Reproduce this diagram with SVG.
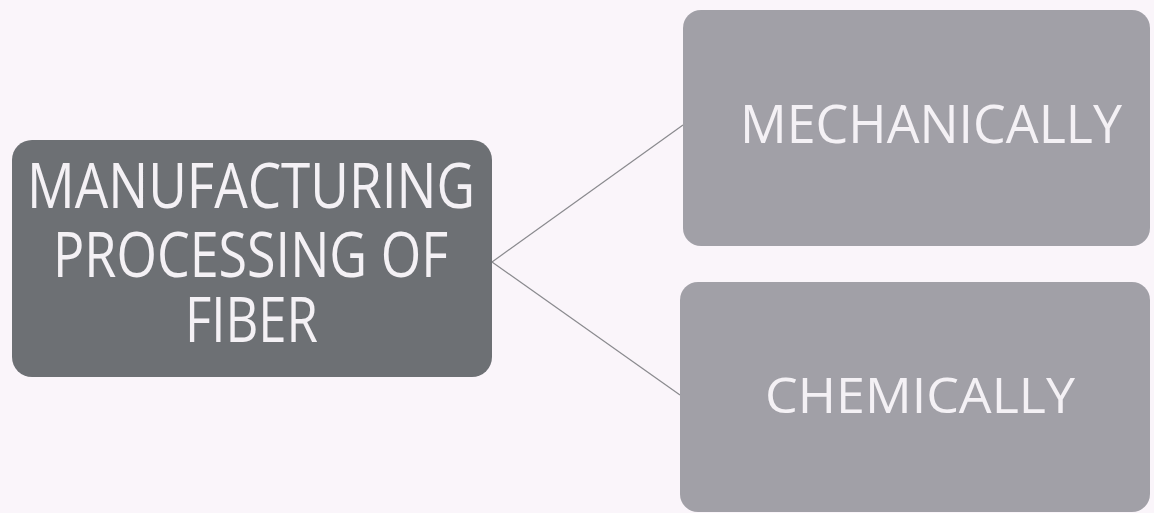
<svg xmlns="http://www.w3.org/2000/svg" width="1154" height="513" viewBox="0 0 1154 513">
  <style>
    .lbl { font-family: "Open Sans", "Noto Sans", sans-serif; fill: #f4f1f5; }
    .dark { fill: #6d7074; }
    .light { fill: #a1a0a7; }
    .conn { stroke: #8a8a8e; stroke-width: 1.2; fill: none; }
  </style>
  <rect x="0" y="0" width="1154" height="513" fill="#faf5fa"/>
  <g id="connectors">
    <line class="conn" x1="492" y1="262" x2="683" y2="125"/>
    <line class="conn" x1="492" y1="262" x2="680" y2="395"/>
  </g>
  <g id="node-main">
    <rect class="dark" x="12" y="140" width="480" height="237" rx="20" ry="20"/>
    <text class="lbl" x="27" y="208" font-size="63" textLength="448" lengthAdjust="spacingAndGlyphs">MANUFACTURING</text>
    <text class="lbl" x="53" y="277" font-size="63" textLength="395" lengthAdjust="spacingAndGlyphs">PROCESSING OF</text>
    <text class="lbl" x="185" y="342" font-size="63" textLength="133" lengthAdjust="spacingAndGlyphs">FIBER</text>
  </g>
  <g id="node-mechanically">
    <rect class="light" x="683" y="10" width="467" height="236" rx="18" ry="18"/>
    <text class="lbl" x="740" y="143" font-size="53" textLength="382" lengthAdjust="spacingAndGlyphs">MECHANICALLY</text>
  </g>
  <g id="node-chemically">
    <rect class="light" x="680" y="282" width="470" height="230" rx="18" ry="18"/>
    <text class="lbl" x="765" y="413" font-size="50" textLength="310" lengthAdjust="spacingAndGlyphs">CHEMICALLY</text>
  </g>
</svg>
